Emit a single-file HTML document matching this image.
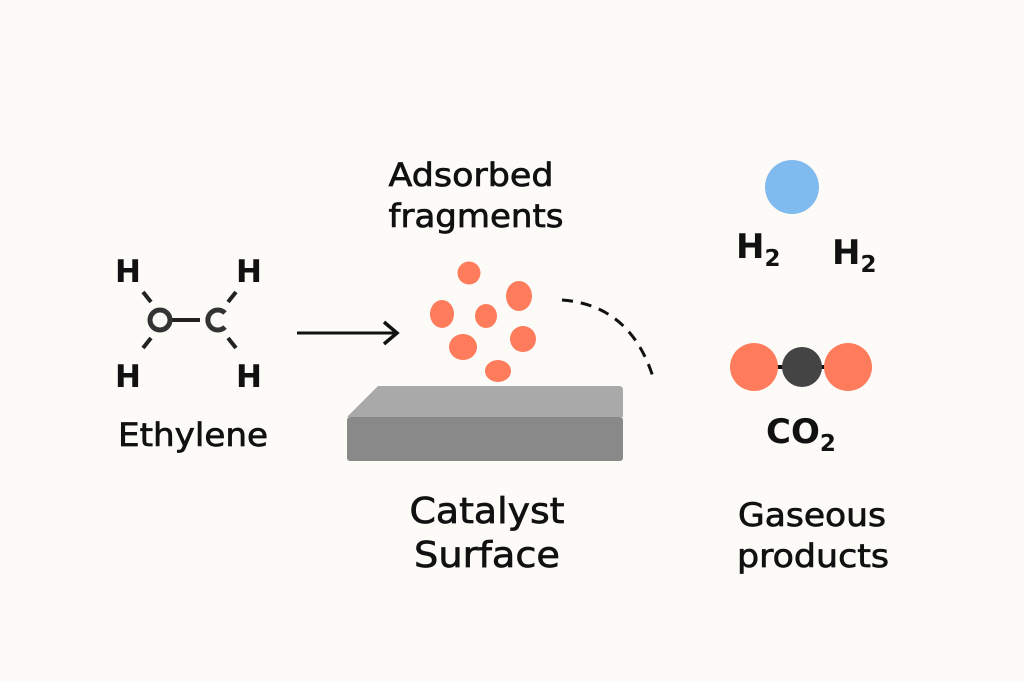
<!DOCTYPE html>
<html><head><meta charset="utf-8"><style>
body{margin:0;background:#fcfbf8;}
svg{display:block}
text{font-family:"DejaVu Sans","Liberation Sans",sans-serif;fill:#111;}
.m{stroke:#111;stroke-width:0.7;}
</style></head><body>
<svg width="1024" height="682" viewBox="0 0 1024 682">
<rect width="1024" height="682" fill="#fcfbf8"/>
<!-- Ethylene -->
<g font-size="31" font-weight="bold" text-anchor="middle">
<text x="128" y="282">H</text><text x="249" y="282">H</text>
<text x="128" y="387">H</text><text x="249" y="387">H</text>
</g>
<g stroke="#222" stroke-width="4" fill="none">
<line x1="143" y1="292" x2="151" y2="302"/>
<line x1="236" y1="292" x2="228" y2="302"/>
<line x1="151" y1="338" x2="143" y2="348"/>
<line x1="228" y1="338" x2="236" y2="348"/>
<line x1="172" y1="320" x2="200" y2="320"/>
<circle cx="160" cy="320" r="10" stroke="#333" stroke-width="5"/>
<path d="M225 313 A10 10 0 1 0 225 327" stroke="#333" stroke-width="5"/>
</g>
<text class="m" x="193" y="446" font-size="32" text-anchor="middle" textLength="150" lengthAdjust="spacingAndGlyphs">Ethylene</text>
<!-- arrow -->
<line x1="297" y1="333" x2="395" y2="333" stroke="#111" stroke-width="3"/>
<path d="M384 322 L397 333 L384 344" fill="none" stroke="#111" stroke-width="3.5"/>
<!-- labels -->
<text class="m" x="471" y="186" font-size="32" text-anchor="middle" textLength="165" lengthAdjust="spacingAndGlyphs">Adsorbed</text>
<text class="m" x="476" y="227" font-size="32" text-anchor="middle" textLength="175" lengthAdjust="spacingAndGlyphs">fragments</text>
<!-- blobs -->
<g fill="#fe7b5b">
<circle cx="469" cy="273" r="11.5"/>
<ellipse cx="519" cy="296" rx="13" ry="15"/>
<ellipse cx="442" cy="314" rx="12" ry="14"/>
<ellipse cx="486" cy="316" rx="11" ry="12"/>
<ellipse cx="463" cy="347" rx="14" ry="13"/>
<ellipse cx="523" cy="339" rx="13" ry="13"/>
<ellipse cx="498" cy="371" rx="13" ry="11"/>
</g>
<path d="M562 300 Q630 305 653 377" fill="none" stroke="#111" stroke-width="3" stroke-dasharray="11 8"/>
<!-- slab -->
<path d="M347 417 L378 386 L619 386 Q623 386 623 390 L623 417 Z" fill="#a9a9a9"/>
<rect x="347" y="417" width="276" height="44" rx="3" fill="#898989"/>
<text class="m" x="487" y="523" font-size="36" text-anchor="middle" textLength="155" lengthAdjust="spacingAndGlyphs">Catalyst</text>
<text class="m" x="487" y="567" font-size="36" text-anchor="middle" textLength="146" lengthAdjust="spacingAndGlyphs">Surface</text>
<!-- right -->
<circle cx="792" cy="187" r="27" fill="#80bbef"/>
<text x="736" y="258" font-size="34" font-weight="bold">H<tspan font-size="23" dy="8">2</tspan></text>
<text x="832" y="264" font-size="34" font-weight="bold">H<tspan font-size="23" dy="8">2</tspan></text>
<line x1="760" y1="367" x2="840" y2="367" stroke="#111" stroke-width="4"/>
<circle cx="754" cy="367" r="24" fill="#fe7b5b"/>
<circle cx="848" cy="367" r="24" fill="#fe7b5b"/>
<circle cx="802" cy="367" r="20" fill="#444"/>
<text x="766" y="443" font-size="34" font-weight="bold">CO<tspan font-size="23" dy="8">2</tspan></text>
<text class="m" x="812" y="526" font-size="32" text-anchor="middle" textLength="148" lengthAdjust="spacingAndGlyphs">Gaseous</text>
<text class="m" x="813" y="567" font-size="32" text-anchor="middle" textLength="152" lengthAdjust="spacingAndGlyphs">products</text>
</svg>
</body></html>
